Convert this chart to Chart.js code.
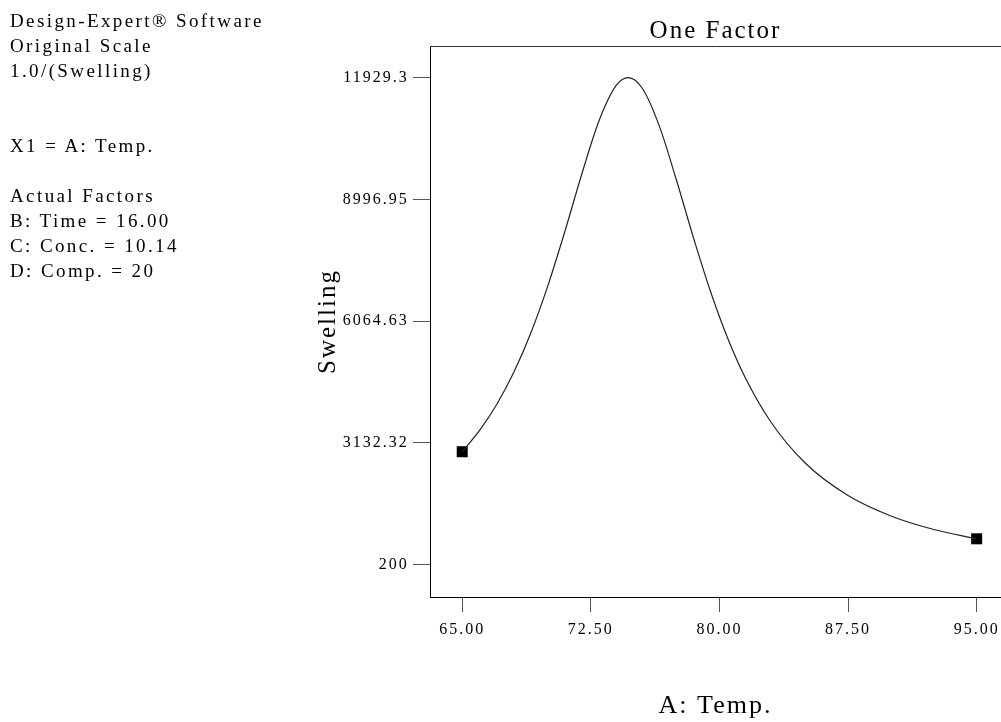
<!DOCTYPE html>
<html>
<head>
<meta charset="utf-8">
<title>One Factor</title>
<script src="https://cdn.jsdelivr.net/npm/chart.js@4/dist/chart.umd.min.js"></script>
<style>
    html, body { margin: 0; padding: 0; background: #fff; }
    #wrap { position: relative; width: 1001px; height: 722px; overflow: hidden; }
    #chart { position: absolute; left: 0; top: 0; }
    #info {
        position: absolute; left: 10px; top: 8px;
        font-family: 'Liberation Serif', 'Times New Roman', serif;
        font-size: 19px; line-height: 25px; letter-spacing: 2.4px;
        color: #000; white-space: pre; margin: 0;
    }
</style>
</head>
<body>
<div id="wrap">
    <canvas id="chart" width="1001" height="722"></canvas>
    <pre id="info">Design-Expert® Software
Original Scale
1.0/(Swelling)


X1 = A: Temp.

Actual Factors
B: Time = 16.00
C: Conc. = 10.14
D: Comp. = 20</pre>
</div>
<script>
    // ---- Data ----

    const curveTemp = [65, 66, 67, 68, 69, 70, 71, 72, 73, 74, 74.68, 75.5,
        76.5, 77.5, 78.5, 79.5, 80.5, 81.5, 83, 85, 87.5, 90, 92.5, 95];
    const curveSwelling = [2915, 3422, 4049, 4826, 5780, 6928, 8249, 9650, 10922, 11761, 11940, 11681,
        10763, 9456, 8056, 6755, 5634, 4707, 3633, 2642, 1857, 1364, 1039, 815];

    // design points at the ends of the factor range
    const designTemp = [65, 95];
    const designSwelling = [2915, 815];

    const xTickValues = [65, 72.5, 80, 87.5, 95];
    const xTickLabels = ['65.00', '72.50', '80.00', '87.50', '95.00'];
    const yTickValues = [200, 3132.32, 6064.63, 8996.95, 11929.3];
    const yTickLabels = ['200', '3132.32', '6064.63', '8996.95', '11929.3'];

    // ---- Chart ----

    const FONT = "'Liberation Serif', 'Times New Roman', serif";
    const INK = '#000';

    // Chart.js has no letter spacing option; set it on the context each draw
    const spacingPlugin = {
        id: 'spacing',
        beforeDraw(chart) {
            chart.ctx.letterSpacing = '2px';
        },
    };

    // top edge of the plot frame (right edge is cut off in the original)
    const frameTop = {
        id: 'frameTop',
        afterDraw(chart) {
            const { ctx, chartArea } = chart;
            ctx.save();
            ctx.strokeStyle = '#333';
            ctx.lineWidth = 1;
            ctx.beginPath();
            ctx.moveTo(chartArea.left, Math.round(chartArea.top) + 0.5);
            ctx.lineTo(chartArea.right, Math.round(chartArea.top) + 0.5);
            ctx.stroke();
            ctx.restore();
        },
    };

    new Chart(document.getElementById('chart'), {
        type: 'scatter',
        data: {
            datasets: [
                {
                    label: 'Swelling',
                    data: curveTemp.map((t, i) => ({ x: t, y: curveSwelling[i] })),
                    showLine: true,
                    borderColor: '#222',
                    borderWidth: 1.2,
                    pointRadius: 0,
                    cubicInterpolationMode: 'monotone',
                    fill: false,
                },
                {
                    label: 'Design points',
                    data: designTemp.map((t, i) => ({ x: t, y: designSwelling[i] })),
                    showLine: false,
                    pointStyle: 'rect',
                    pointRadius: 7.8,
                    backgroundColor: INK,
                    borderColor: INK,
                    borderWidth: 0,
                },
            ],
        },
        options: {
            responsive: false,
            animation: false,
            devicePixelRatio: 1,
            layout: { autoPadding: false, padding: { left: 310, top: 0, right: 0, bottom: 0 } },
            plugins: {
                legend: { display: false },
                tooltip: { enabled: false },
                title: {
                    display: true,
                    text: 'One Factor',
                    fullSize: false,
                    color: INK,
                    font: { family: FONT, size: 25, weight: 'normal' },
                    padding: { top: 16, bottom: 0 },
                },
            },
            scales: {
                x: {
                    type: 'linear',
                    min: 63.12,
                    max: 96.42,
                    afterBuildTicks: (s) => { s.ticks = xTickValues.map((v) => ({ value: v })); },
                    afterFit: (s) => { s.height = 125; s.paddingLeft = 0; s.paddingRight = 0; },
                    ticks: {
                        color: INK,
                        padding: 8.4,
                        maxRotation: 0,
                        autoSkip: false,
                        font: { family: FONT, size: 16 },
                        callback: (v, i) => xTickLabels[i],
                    },
                    grid: { drawOnChartArea: false, drawTicks: true, tickLength: 15, color: '#555' },
                    border: { display: true, color: INK, width: 1 },
                    title: {
                        display: true,
                        text: 'A: Temp.',
                        color: INK,
                        font: { family: FONT, size: 26 },
                        padding: { top: 0, bottom: 0.4 },
                    },
                },
                y: {
                    type: 'linear',
                    min: -588.7,
                    max: 12701,
                    afterBuildTicks: (s) => { s.ticks = yTickValues.map((v) => ({ value: v })); },
                    afterFit: (s) => { s.width = 120; s.paddingTop = 0; s.paddingBottom = 0; },
                    ticks: {
                        color: INK,
                        padding: 4.3,
                        autoSkip: false,
                        font: { family: FONT, size: 16 },
                        callback: (v, i) => yTickLabels[i],
                    },
                    grid: { drawOnChartArea: false, drawTicks: true, tickLength: 17, color: '#555' },
                    border: { display: true, color: INK, width: 1 },
                    title: {
                        display: true,
                        text: 'Swelling',
                        color: INK,
                        font: { family: FONT, size: 25 },
                        padding: { top: 3, bottom: 0 },
                    },
                },
            },
        },
        plugins: [spacingPlugin, frameTop],
    });
</script>
</body>
</html>
